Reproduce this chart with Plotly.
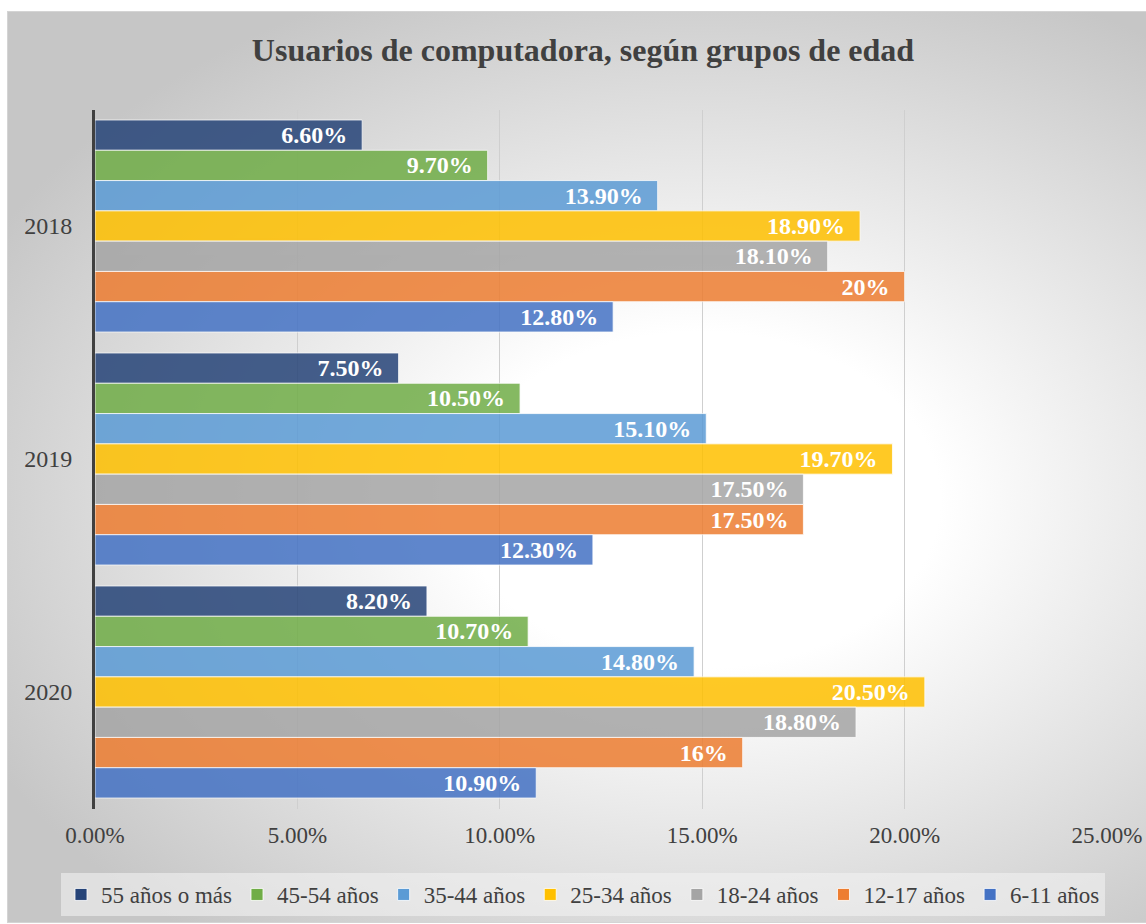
import base64
import plotly.graph_objects as go

# ---- data ----
years = ["2018", "2019", "2020"]
series_names = ["55 años o más", "45-54 años", "35-44 años", "25-34 años",
                "18-24 años", "12-17 años", "6-11 años"]
v_55 = [6.6, 7.5, 8.2]
v_45_54 = [9.7, 10.5, 10.7]
v_35_44 = [13.9, 15.1, 14.8]
v_25_34 = [18.9, 19.7, 20.5]
v_18_24 = [18.1, 17.5, 18.8]
v_12_17 = [20.0, 17.5, 16.0]
v_6_11 = [12.8, 12.3, 10.9]
series_values = [v_55, v_45_54, v_35_44, v_25_34, v_18_24, v_12_17, v_6_11]
x_ticks = [0, 5, 10, 15, 20, 25]
x_ticktext = [f"{t:.2f}%" for t in x_ticks]

colors = ["#264478", "#70AD47", "#5B9BD5", "#FFC000", "#A5A5A5", "#ED7D31", "#4472C4"]

W, H = 1146, 924
FONT = "Liberation Serif, Times New Roman, serif"


def fmt(v):
    s = f"{v:.0f}%" if float(v).is_integer() else f"{v:.2f}%"
    return s + "\u00a0\u00a0"


# background: radial gradient box
svg = f'''<svg xmlns="http://www.w3.org/2000/svg" width="{W}" height="{H}" viewBox="0 0 {W} {H}" preserveAspectRatio="none">
<defs>
<radialGradient id="g" gradientUnits="userSpaceOnUse" cx="700" cy="500" r="800"
 gradientTransform="translate(700 500) scale(1 0.7) translate(-700 -500)">
<stop offset="0" stop-color="#ffffff"/>
<stop offset="0.3" stop-color="#ffffff"/>
<stop offset="1" stop-color="#c6c6c6"/>
</radialGradient>
</defs>
<rect x="0" y="0" width="{W}" height="{H}" fill="#ffffff"/>
<rect x="7.5" y="11.5" width="{W - 7}" height="911" fill="url(#g)" stroke="#d4d4d4" stroke-width="1"/>
</svg>'''
bg_uri = "data:image/svg+xml;base64," + base64.b64encode(svg.encode()).decode()

fig = go.Figure()
for name, vals, col in zip(series_names, series_values, colors):
    fig.add_trace(go.Bar(
        name=name, y=years, x=vals, orientation="h",
        marker=dict(color=col, opacity=0.85, line=dict(color="rgba(255,255,255,0.8)", width=1)),
        text=[fmt(v) for v in vals],
        textposition="inside", insidetextanchor="end", constraintext="none",
        textfont=dict(family=FONT, size=24, color="#ffffff", weight="bold"),
        cliponaxis=False,
    ))

fig.update_layout(
    width=W, height=H, autosize=False,
    margin=dict(l=0, r=0, t=0, b=0, pad=0),
    paper_bgcolor="rgba(0,0,0,0)", plot_bgcolor="rgba(0,0,0,0)",
    barmode="group", bargap=0.09, bargroupgap=0,
    font=dict(family=FONT, color="#404040", size=23),
    title=dict(text="<b>Usuarios de computadora, según grupos de edad</b>",
               x=583 / W, xanchor="center", y=1 - 50 / H, yanchor="middle",
               font=dict(family=FONT, size=32, color="#404040"), automargin=False),
    xaxis=dict(domain=[95 / W, 1107 / W], range=[0, 25], tickmode="array",
               tickvals=x_ticks, ticktext=x_ticktext, automargin=False,
               showgrid=True, gridcolor="#cfcfcf",
               gridwidth=1, zeroline=False, showline=False, ticks="",
               ticklabelstandoff=10, tickfont=dict(size=23, color="#404040")),
    yaxis=dict(domain=[1 - 808.5 / H, 1 - 109.5 / H], type="category",
               autorange="reversed", showgrid=False, zeroline=False, automargin=False,
               showline=True, linecolor="#404040", linewidth=3, ticks="",
               ticklabelstandoff=15, tickfont=dict(size=24, color="#404040")),
    legend=dict(orientation="h", x=583 / W, xanchor="center", y=1 - 894.5 / H,
                yanchor="middle", traceorder="normal",
                bgcolor="rgba(242,242,242,0.6)", font=dict(size=23, color="#404040"),
                itemwidth=30),
    images=[dict(source=bg_uri, xref="paper", yref="paper", x=0, y=1,
                 sizex=1, sizey=1, sizing="stretch", layer="below",
                 xanchor="left", yanchor="top")],
)

fig.write_html("out.html", config={"displayModeBar": False},
               post_script="document.body.style.margin='0';document.body.style.overflow='hidden';")
